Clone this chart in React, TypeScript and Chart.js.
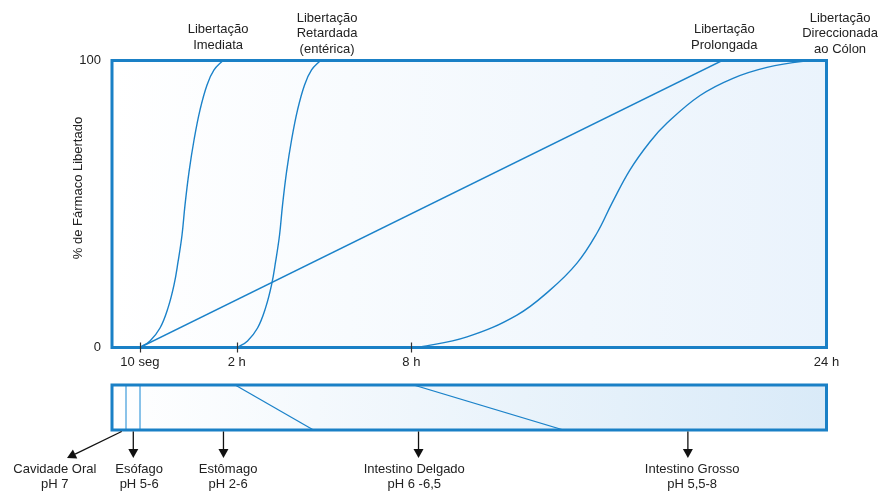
import React, { useEffect, useRef } from "react";
import { Chart, registerables } from "chart.js";

Chart.register(...registerables);

// ---------- data (x in relative time-axis units 0..100, y in % released) ----------
const tickValues = [3.9, 17.45, 41.9, 100];
const tickLabels = ["10 seg", "2 h", "8 h", "24 h"];
const tickMarkValues = [3.9, 17.45, 41.9];
const yTickValues = [0, 100];

const immediateX = [3.92, 5.32, 6.72, 7.84, 8.68, 9.24, 9.8, 10.22, 10.78, 11.48, 12.32, 13.3, 14.28, 15.53];
const immediateY = [0, 2.3, 6.8, 13.8, 21.8, 29.8, 39.2, 49.7, 61.2, 72.3, 82.8, 91.5, 96.7, 100];

const delayedX = [17.57, 18.97, 20.37, 21.49, 22.33, 22.89, 23.45, 23.87, 24.43, 25.13, 25.97, 26.95, 27.93, 29.18];
const delayedY = [0, 2.3, 6.8, 13.8, 21.8, 29.8, 39.2, 49.7, 61.2, 72.3, 82.8, 91.5, 96.7, 100];

const prolongedX = [3.92, 85.4];
const prolongedY = [0, 100];

const colonX = [41.99, 43.11, 49.69, 56.68, 61.3, 65.08, 67.88, 69.98, 72.5, 75.3, 77.68, 82.3, 86.91, 91.67, 96.71, 100];
const colonY = [0, 0.2, 3.7, 11.3, 20.0, 29.4, 39.9, 50.3, 61.9, 71.7, 78.2, 87.8, 93.8, 97.6, 99.7, 100];

const annotationX = [14.85, 30.1, 85.7, 101.9];
const annotationText = [
  ["Libertação", "Imediata"],
  ["Libertação", "Retardada", "(entérica)"],
  ["Libertação", "Prolongada"],
  ["Libertação", "Direccionada", "ao Cólon"],
];

const yTitle = "% de Fármaco Libertado";

// GI tract strip
const boundaryVerticalX = [1.96, 3.92];
const stomachBoundaryX = [17.23, 28.2];
const intestineBoundaryX = [42.2, 63.2];

const organNames = ["Cavidade Oral", "Esófago", "Estômago", "Intestino Delgado", "Intestino Grosso"];
const organPH = ["pH 7", "pH 5-6", "pH 2-6", "pH 6 -6,5", "pH 5,5-8"];
const organLabelX = [-8.0, 3.8, 16.25, 42.3, 81.2];
const arrowFromX = [1.35, 2.98, 15.6, 42.9, 80.6];
const arrowToX = [-6.3, 2.98, 15.6, 42.9, 80.6];

// ---------- styles ----------
const CURVE = "#1b82c9";
const BORDER = "#1a80c6";
const TEXT = "#222222";
const FONT_FAMILY = '"Liberation Sans", Arial, sans-serif';
const FONT = `13px ${FONT_FAMILY}`;

const zip = (xs: number[], ys: number[]) => xs.map((x, i) => ({ x, y: ys[i] }));

const curveStyle = {
  borderColor: CURVE,
  borderWidth: 1.4,
  pointRadius: 0,
  fill: false,
  tension: 0.4,
};

const mainDecor = {
  id: "mainDecor",
  beforeDatasetsDraw(chart: any) {
    const { ctx, chartArea: a } = chart;
    const g = ctx.createLinearGradient(a.left, 0, a.right, 0);
    g.addColorStop(0, "#ffffff");
    g.addColorStop(1, "#eaf3fc");
    ctx.save();
    ctx.fillStyle = g;
    ctx.fillRect(a.left, a.top, a.right - a.left, a.bottom - a.top);
    ctx.restore();
  },
  afterDatasetsDraw(chart: any) {
    const { ctx, chartArea: a, scales } = chart;
    ctx.save();
    ctx.strokeStyle = BORDER;
    ctx.lineWidth = 3;
    ctx.strokeRect(a.left, a.top, a.right - a.left, a.bottom - a.top);

    // tick marks
    ctx.strokeStyle = "#333";
    ctx.lineWidth = 1.2;
    tickMarkValues.forEach((v) => {
      const x = Math.round(scales.x.getPixelForValue(v)) + 0.5;
      ctx.beginPath();
      ctx.moveTo(x, a.bottom - 5);
      ctx.lineTo(x, a.bottom + 5);
      ctx.stroke();
    });

    // y title
    ctx.fillStyle = TEXT;
    ctx.font = FONT;
    ctx.textAlign = "center";
    ctx.textBaseline = "middle";
    ctx.save();
    ctx.translate(78, (a.top + a.bottom) / 2 - 16);
    ctx.rotate(-Math.PI / 2);
    ctx.fillText(yTitle, 0, 0);
    ctx.restore();

    // annotations
    annotationText.forEach((lines, i) => {
      const x = scales.x.getPixelForValue(annotationX[i]);
      const startY = lines.length === 3 ? 18 : 29.5;
      lines.forEach((t, j) => ctx.fillText(t, x, startY + j * 15.5));
    });
    ctx.restore();
  },
};

const stripDecor = {
  id: "stripDecor",
  beforeDatasetsDraw(chart: any) {
    const { ctx, chartArea: a } = chart;
    const g = ctx.createLinearGradient(a.left, 0, a.right, 0);
    g.addColorStop(0, "#ffffff");
    g.addColorStop(1, "#d9eaf8");
    ctx.save();
    ctx.fillStyle = g;
    ctx.fillRect(a.left, a.top, a.right - a.left, a.bottom - a.top);
    ctx.restore();
  },
  afterDatasetsDraw(chart: any) {
    const { ctx, chartArea: a, scales } = chart;
    ctx.save();
    ctx.strokeStyle = BORDER;
    ctx.lineWidth = 3;
    ctx.strokeRect(a.left, a.top, a.right - a.left, a.bottom - a.top);

    // arrows
    const y0 = a.bottom + 1.5;
    const y1 = 88;
    ctx.strokeStyle = "#111";
    ctx.fillStyle = "#111";
    ctx.lineWidth = 1.3;
    arrowFromX.forEach((fx, i) => {
      const x0 = scales.x.getPixelForValue(fx);
      const x1 = scales.x.getPixelForValue(arrowToX[i]);
      const ang = Math.atan2(y1 - y0, x1 - x0);
      const hl = 9;
      const hw = 5;
      const bx = x1 - hl * Math.cos(ang);
      const by = y1 - hl * Math.sin(ang);
      ctx.beginPath();
      ctx.moveTo(x0, y0);
      ctx.lineTo(bx, by);
      ctx.stroke();
      ctx.beginPath();
      ctx.moveTo(x1, y1);
      ctx.lineTo(bx + hw * Math.sin(ang), by - hw * Math.cos(ang));
      ctx.lineTo(bx - hw * Math.sin(ang), by + hw * Math.cos(ang));
      ctx.closePath();
      ctx.fill();
    });

    // labels
    ctx.fillStyle = TEXT;
    ctx.font = FONT;
    ctx.textAlign = "center";
    ctx.textBaseline = "middle";
    organNames.forEach((n, i) => {
      const x = scales.x.getPixelForValue(organLabelX[i]);
      ctx.fillText(n, x, 99);
      ctx.fillText(organPH[i], x, 114.5);
    });
    ctx.restore();
  },
};

export default function App() {
  const mainRef = useRef<HTMLCanvasElement | null>(null);
  const stripRef = useRef<HTMLCanvasElement | null>(null);

  useEffect(() => {
    const mainCanvas = mainRef.current!;
    const stripCanvas = stripRef.current!;

    const main = new Chart(mainCanvas, {
      type: "line",
      data: {
        datasets: [
          { ...curveStyle, data: zip(immediateX, immediateY) },
          { ...curveStyle, data: zip(delayedX, delayedY) },
          { ...curveStyle, tension: 0, data: zip(prolongedX, prolongedY) },
          { ...curveStyle, data: zip(colonX, colonY) },
        ] as any,
      },
      options: {
        animation: false,
        responsive: false,
        maintainAspectRatio: false,
        events: [],
        layout: { padding: { left: 0, right: 52.5, top: 60.5, bottom: 0 } },
        plugins: { legend: { display: false }, tooltip: { enabled: false } },
        scales: {
          x: {
            type: "linear",
            min: 0,
            max: 100,
            grid: { display: false, drawTicks: false },
            border: { display: false },
            afterBuildTicks: (s: any) => {
              s.ticks = tickValues.map((v) => ({ value: v }));
            },
            afterFit: (s: any) => {
              s.height = 32.5;
            },
            ticks: {
              padding: 7,
              color: TEXT,
              font: { family: FONT_FAMILY, size: 13 },
              maxRotation: 0,
              autoSkip: false,
              callback: (v: any) => {
                const i = tickValues.indexOf(Number(v));
                return i >= 0 ? tickLabels[i] : "";
              },
            },
          },
          y: {
            type: "linear",
            min: 0,
            max: 100,
            grid: { display: false, drawTicks: false },
            border: { display: false },
            afterBuildTicks: (s: any) => {
              s.ticks = yTickValues.map((v) => ({ value: v }));
            },
            afterFit: (s: any) => {
              s.width = 112;
            },
            ticks: {
              padding: 11,
              color: TEXT,
              font: { family: FONT_FAMILY, size: 13 },
            },
          },
        },
      } as any,
      plugins: [mainDecor],
    });

    const lineStyle = {
      borderColor: CURVE,
      borderWidth: 1.2,
      pointRadius: 0,
      fill: false,
      tension: 0,
    };

    const strip = new Chart(stripCanvas, {
      type: "line",
      data: {
        datasets: [
          { ...lineStyle, borderColor: "#3d9bdb", data: [{ x: boundaryVerticalX[0], y: 1 }, { x: boundaryVerticalX[0], y: 0 }] },
          { ...lineStyle, borderColor: "#3d9bdb", data: [{ x: boundaryVerticalX[1], y: 1 }, { x: boundaryVerticalX[1], y: 0 }] },
          { ...lineStyle, data: [{ x: stomachBoundaryX[0], y: 1 }, { x: stomachBoundaryX[1], y: 0 }] },
          { ...lineStyle, data: [{ x: intestineBoundaryX[0], y: 1 }, { x: intestineBoundaryX[1], y: 0 }] },
        ] as any,
      },
      options: {
        animation: false,
        responsive: false,
        maintainAspectRatio: false,
        events: [],
        layout: { padding: { left: 112, right: 52.5, top: 15, bottom: 62 } },
        plugins: { legend: { display: false }, tooltip: { enabled: false } },
        scales: {
          x: { type: "linear", min: 0, max: 100, display: false },
          y: { type: "linear", min: 0, max: 1, display: false },
        },
      } as any,
      plugins: [stripDecor],
    });

    return () => {
      main.destroy();
      strip.destroy();
    };
  }, []);

  return (
    <div style={{ position: "fixed", left: 0, top: 0, width: 879, height: 492, background: "#ffffff" }}>
      <canvas ref={mainRef} width={879} height={380} style={{ position: "absolute", left: 0, top: 0, width: 879, height: 380 }} />
      <canvas ref={stripRef} width={879} height={122} style={{ position: "absolute", left: 0, top: 370, width: 879, height: 122 }} />
    </div>
  );
}
